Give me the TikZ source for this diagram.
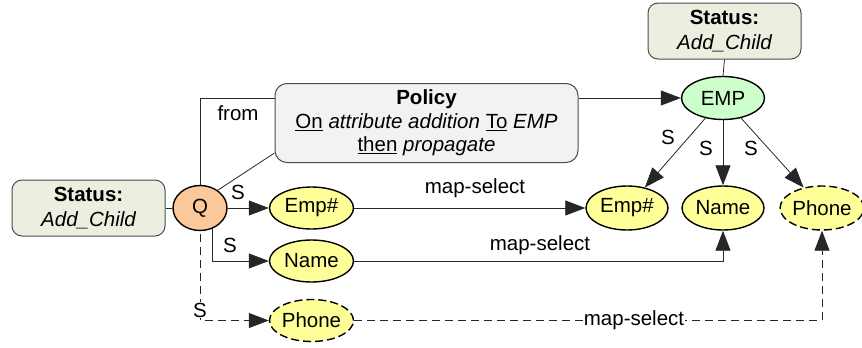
\documentclass[tikz,border=0pt]{standalone}
\usepackage{fontspec}
\setmainfont{Liberation Sans}
\usetikzlibrary{arrows.meta,shapes.geometric,calc,backgrounds}
\definecolor{statusfill}{HTML}{EBEFDF}
\definecolor{policyfill}{HTML}{F2F2F2}
\definecolor{queryfill}{HTML}{FAC89A}
\definecolor{entityfill}{HTML}{CCFFCC}
\definecolor{attrfill}{HTML}{FFFF99}
\begin{document}
\begin{tikzpicture}[x=1pt,y=-1pt,
  every node/.style={font=\fontsize{20.5}{24}\selectfont},
  box/.style={draw=black!70, line width=1pt, rounded corners=10pt, align=center, inner sep=0pt},
  status/.style={box, fill=statusfill, minimum width=153pt, minimum height=56pt,
    font=\fontsize{20.5}{25}\selectfont},
  policybox/.style={box, fill=policyfill, rounded corners=12pt, minimum width=303pt,
    minimum height=79pt, font=\fontsize{20.5}{23.5}\selectfont},
  oval/.style={ellipse, draw=black, line width=1.4pt, inner sep=0pt},
  query/.style={oval, fill=queryfill, minimum width=54pt, minimum height=45pt},
  entity/.style={oval, fill=entityfill, minimum width=83pt, minimum height=43pt},
  attr/.style={oval, fill=attrfill, minimum width=82pt, minimum height=44pt},
  srcattr/.style={attr, minimum width=84pt, minimum height=42pt},
  newattr/.style={dash pattern=on 8pt off 4pt},
  tip/.style={-{Triangle[length=20pt,width=15pt]}},
  wire/.style={line width=0.8pt, draw=black!85},
  lbl/.style={inner sep=1pt},
  dashline/.style={dash pattern=on 8pt off 5pt}
]
\useasboundingbox (0,0) rectangle (862,348);

% status and policy boxes
\node[status] (stL) at (88.5,208) {\bfseries Status:\\\itshape Add\_Child};
\node[status] (stT) at (724.5,31) {\bfseries Status:\\\itshape Add\_Child};
\node[policybox] (policy) at (426.5,123)
  {\bfseries Policy\\
   \underline{On} \textit{attribute addition} \underline{To} \textit{EMP}\\
   \underline{then} \textit{propagate}};

% query and entity ovals
\node[query] (q) at (200,208) {Q};
\node[entity] (emp) at (723,98) {EMP};

% attributes of EMP
\node[attr] (e2) at (627,208) {Emp\#};
\node[attr] (n2) at (723,208) {Name};
\node[attr, newattr] (p2) at (822,208) {Phone};

% attributes selected by Q
\node[srcattr] (e1) at (311.5,208) {Emp\#};
\node[srcattr] (n1) at (311.5,261) {Name};
\node[srcattr, newattr] (p1) at (311.5,320.5) {Phone};

\coordinate (fromend) at ($(policy.north west)+(0,15)$);
\coordinate (diagend) at ($(policy.south west)+(0,-10)$);

\begin{scope}[on background layer]
  % plain links
  \draw[wire] (stL.east) -- (q.west);
  \draw[wire] (stT.south) -- (emp.north);
  \draw[wire] (q.center) |- (fromend);
  \draw[wire] (q.45) -- (diagend);
  \draw[wire, tip] (policy.east |- emp.west) -- (emp.west);
  % structure links of EMP
  \draw[wire, tip] (emp) -- (e2);
  \draw[wire, tip] (emp) -- (n2);
  \draw[wire, tip] (emp) -- (p2);
  % selections by Q
  \draw[wire, tip] (q.east) -- (e1.west);
  \draw[wire, tip] ($(q.center)+(12,0)$) |- (n1.west);
  \draw[wire, tip, dashline] (q.center) |- (p1.west);
  % mappings
  \draw[wire, tip] (e1.east) -- (e2.west);
  \draw[wire, tip] (n1.east) -| (n2.south);
  \draw[wire, tip, dashline] (p1.east) -| (p2.south);
\end{scope}

% labels
\node[lbl] (lfrom) at (238,113) {from};
\node[lbl] (ls1) at (238,192) {S};
\node[lbl] (ls2) at (230,245) {S};
\node[lbl, fill=white] (ls3) at (200,310) {S};
\node[lbl] (ls4) at (668,137) {S};
\node[lbl] (ls5) at (706,148) {S};
\node[lbl] (ls6) at (751,148) {S};
\node[lbl] (lm1) at (475,188) {map-select};
\node[lbl] (lm2) at (540,245) {map-select};
\node[lbl, fill=white] (lm3) at (634,320.5) {map-select};
\end{tikzpicture}
\end{document}
